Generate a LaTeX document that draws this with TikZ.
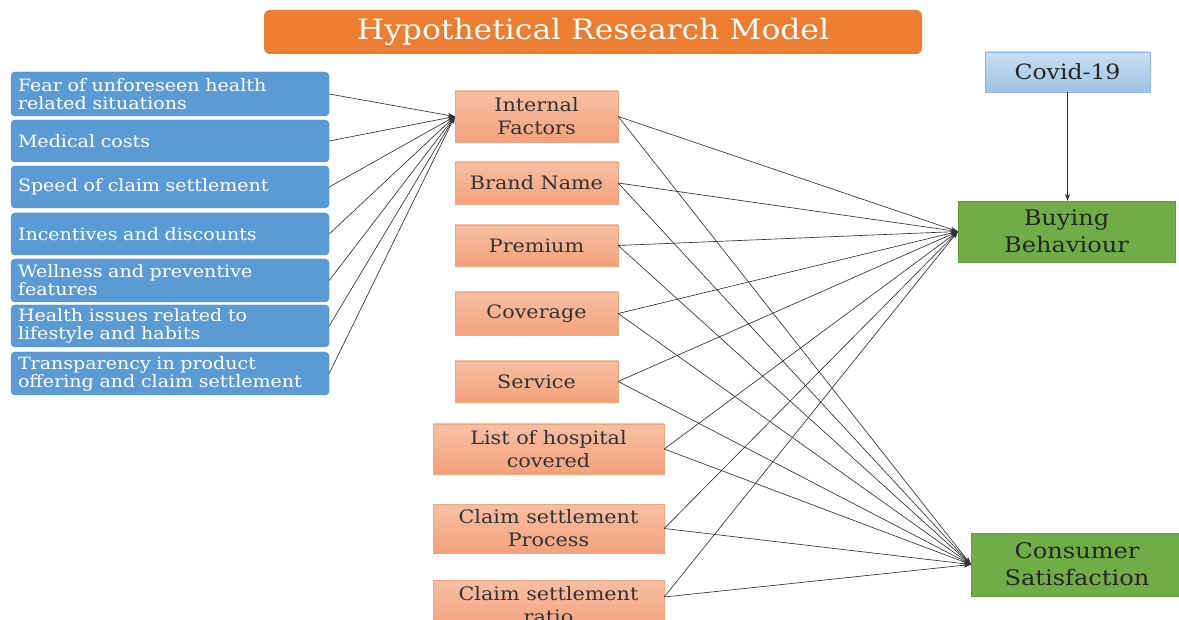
\documentclass[tikz,border=0pt]{standalone}
\usepackage{fontspec}
\setmainfont[FakeStretch=1.12]{DejaVu Serif}
\usetikzlibrary{arrows.meta,calc}
\definecolor{titleorange}{HTML}{ED7D31}
\definecolor{factorblue}{HTML}{5B9BD5}
\definecolor{factorline}{HTML}{4A8BC8}
\definecolor{salmonTop}{HTML}{F7BFA3}
\definecolor{salmonBot}{HTML}{F4A27C}
\definecolor{salmonLine}{HTML}{F2A67F}
\definecolor{covidTop}{HTML}{C9DFF2}
\definecolor{covidBot}{HTML}{9DC3E6}
\definecolor{covidLine}{HTML}{8DB7E0}
\definecolor{outcomeGreen}{HTML}{70AD47}
\definecolor{linkgray}{HTML}{333333}
\begin{document}
\begin{tikzpicture}[x=1pt,y=-1pt,
  titlebox/.style={fill=titleorange,rounded corners=6pt,text=white,
    minimum width=658pt,minimum height=44pt,font=\fontsize{28}{30}\selectfont},
  factorbox/.style={fill=factorblue,draw=factorline,line width=0.4pt,rounded corners=4pt,
    text=white,align=left,text width=304pt,inner xsep=7pt,inner ysep=1pt,
    minimum height=#1,font=\fontsize{17}{18}\selectfont},
  itembox/.style={top color=salmonTop,bottom color=salmonBot,draw=salmonLine,line width=0.4pt,
    text=black!80,align=center,inner sep=1pt,font=\fontsize{18.5}{23}\selectfont},
  covidbox/.style={top color=covidTop,bottom color=covidBot,draw=covidLine,line width=0.4pt,
    text=black!85,align=center,minimum width=165pt,minimum height=40pt,
    font=\fontsize{21}{24}\selectfont},
  outcomebox/.style={fill=outcomeGreen,draw=outcomeGreen!90!black,line width=0.3pt,
    text=black!85,align=center,inner sep=1pt,font=\fontsize{21.5}{27}\selectfont},
  link/.style={draw=linkgray,line width=0.65pt,-{Stealth[length=7pt,width=5pt]}}
]
\useasboundingbox (0,0) rectangle (1179,620);
\clip (0,0) rectangle (1179,620);

% title banner
\node[titlebox] (title) at (593,32) {Hypothetical Research Model};

% antecedent factors
\node[factorbox=44pt] (f1) at (170,94)    {Fear of unforeseen health\\related situations};
\node[factorbox=42pt] (f2) at (170,141)   {Medical costs};
\node[factorbox=42pt] (f3) at (170,187)   {Speed of claim settlement};
\node[factorbox=42pt] (f4) at (170,234)   {Incentives and discounts};
\node[factorbox=43pt] (f5) at (170,280.5) {Wellness and preventive\\features};
\node[factorbox=42pt] (f6) at (170,326)   {Health issues related to\\lifestyle and habits};
\node[factorbox=43pt] (f7) at (170,373.5) {Transparency in product\\offering and claim settlement};

% insurance attributes
\node[itembox,minimum width=163pt,minimum height=51pt] (IF) at (536.5,116.5) {Internal\\Factors};
\node[itembox,minimum width=163pt,minimum height=42pt] (BN) at (536.5,183)   {Brand Name};
\node[itembox,minimum width=163pt,minimum height=41pt] (PR) at (536.5,245.5) {Premium};
\node[itembox,minimum width=163pt,minimum height=43pt] (CO) at (536.5,313.5) {Coverage};
\node[itembox,minimum width=163pt,minimum height=41pt] (SE) at (536.5,381.5) {Service};
\node[itembox,minimum width=231pt,minimum height=50pt] (LH) at (548.5,449)   {List of hospital\\covered};
\node[itembox,minimum width=231pt,minimum height=49pt] (CP) at (548.5,528.5) {Claim settlement\\Process};
\node[itembox,minimum width=231pt,minimum height=50pt] (CR) at (548.5,605)   {Claim settlement\\ratio};
\coordinate (crp) at ($(CR.east)+(0,-8)$);

% moderator and outcomes
\node[covidbox] (CV) at (1067.5,72) {Covid-19};
\node[outcomebox,minimum width=217pt,minimum height=61pt] (BB) at (1066.5,231.5) {Buying\\Behaviour};
\node[outcomebox,minimum width=212pt,minimum height=63pt] (CS) at (1077,564.5) {Consumer\\Satisfaction};

% links
\foreach \s in {f1,f2,f3,f4,f5,f6,f7}
  \draw[link] (\s.east) -- (IF.west);
\foreach \s in {IF,BN,PR,CO,SE,LH,CP} {
  \draw[link] (\s.east) -- (BB.west);
  \draw[link] (\s.east) -- (CS.west);
}
\draw[link] (crp) -- (BB.west);
\draw[link] (crp) -- (CS.west);
\draw[link] (CV.south) -- (CV.south |- BB.north);
\end{tikzpicture}
\end{document}
